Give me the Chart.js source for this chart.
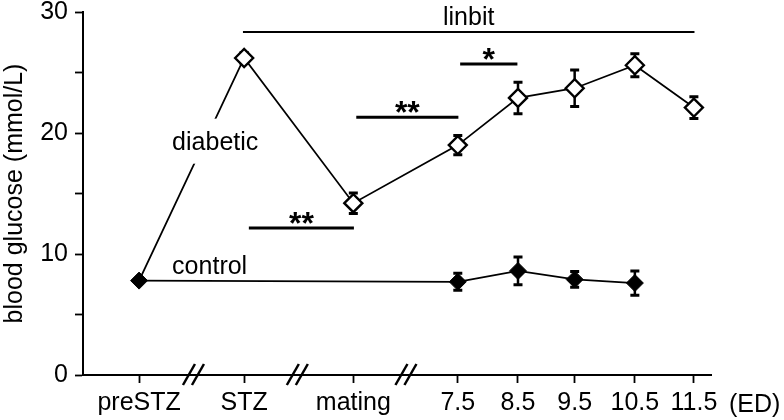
<!DOCTYPE html>
<html>
<head>
<meta charset="utf-8">
<script src="https://cdn.jsdelivr.net/npm/chart.js@4"></script>
<style>
  body { margin: 0; background: #fff; }
  canvas { display: block; }
</style>
</head>
<body>
<canvas id="chart" width="784" height="420"></canvas>
<script>
// categories and where they sit on the (broken) x axis, in ED-like units
const xLabels = ['preSTZ', 'STZ', 'mating', '7.5', '8.5', '9.5', '10.5', '11.5'];
const xPos = [0, 1.78, 3.63, 5.4, 6.42, 7.38, 8.4, 9.4];

// blood glucose (mmol/L), mean and error
const diabetic = [7.8, 26.2, 14.2, 19.0, 22.9, 23.7, 25.6, 22.1];
const diabeticErr = [0, 0.45, 0.85, 0.8, 1.3, 1.5, 0.95, 0.9];
const control = [7.8, null, null, 7.7, 8.6, 7.9, 7.6, null];
const controlErr = [0, null, null, 0.7, 1.15, 0.65, 1.0, null];

// significance bars: start, end, height, label
const sigStart = [1.86, 3.68, 5.44, 1.76];
const sigEnd = [3.64, 5.41, 6.41, 9.41];
const sigY = [12.15, 21.3, 25.7, 28.35];
const sigText = ['**', '**', '*', 'linbit'];

// axis break marks
const breakPos = [0.93, 2.69, 4.53];

const FONT = '"Liberation Sans", Arial, sans-serif';

const toPoints = (vals) => vals.map((v, i) => ({ x: xPos[i], y: v }));

// draws the error bars under the markers
const errorBars = {
  id: 'errorBars',
  beforeDatasetsDraw(chart) {
    const { ctx, scales: { x, y } } = chart;
    const sets = [[diabetic, diabeticErr], [control, controlErr]];
    ctx.save();
    ctx.strokeStyle = '#000';
    sets.forEach(([vals, errs]) => {
      vals.forEach((v, i) => {
        if (v == null || !errs[i]) return;
        const px = x.getPixelForValue(xPos[i]);
        const top = y.getPixelForValue(v + errs[i]);
        const bot = y.getPixelForValue(v - errs[i]);
        ctx.lineWidth = 2.5;
        ctx.beginPath();
        ctx.moveTo(px, top);
        ctx.lineTo(px, bot);
        ctx.stroke();
        ctx.lineWidth = 3;
        ctx.beginPath();
        ctx.moveTo(px - 4.5, top);
        ctx.lineTo(px + 4.5, top);
        ctx.moveTo(px - 4.5, bot);
        ctx.lineTo(px + 4.5, bot);
        ctx.stroke();
      });
    });
    ctx.restore();
  }
};

// significance bars, series labels, axis breaks, unit label
const extras = {
  id: 'extras',
  afterDraw(chart) {
    const { ctx, scales: { x, y } } = chart;
    ctx.save();
    ctx.fillStyle = '#000';
    ctx.strokeStyle = '#000';

    sigText.forEach((t, i) => {
      const x0 = x.getPixelForValue(sigStart[i]);
      const x1 = x.getPixelForValue(sigEnd[i]);
      const py = y.getPixelForValue(sigY[i]);
      ctx.lineWidth = t === 'linbit' ? 2 : 3;
      ctx.beginPath();
      ctx.moveTo(x0, py);
      ctx.lineTo(x1, py);
      ctx.stroke();
      ctx.textAlign = 'center';
      ctx.textBaseline = 'alphabetic';
      if (t === 'linbit') {
        ctx.font = '25px ' + FONT;
        ctx.fillText(t, (x0 + x1) / 2, py - 7);
      } else {
        ctx.font = 'bold 32px ' + FONT;
        ctx.fillText(t, (x0 + x1) / 2, py + 6);
      }
    });

    // series labels; the diabetic one sits on a white box that breaks the line
    ctx.font = '25px ' + FONT;
    ctx.textAlign = 'left';
    ctx.textBaseline = 'middle';
    const dx = x.getPixelForValue(0.56), dy = y.getPixelForValue(19.2);
    ctx.fillStyle = '#fff';
    ctx.fillRect(dx - 4, dy - 24, 98, 45);
    ctx.fillStyle = '#000';
    ctx.fillText('diabetic', dx, dy);
    ctx.fillText('control', x.getPixelForValue(0.56), y.getPixelForValue(8.9));

    // "//" breaks on the x axis
    const base = y.getPixelForValue(0);
    ctx.lineWidth = 2.5;
    breakPos.forEach((b) => {
      const bx = x.getPixelForValue(b);
      [-5, 4].forEach((o) => {
        ctx.beginPath();
        ctx.moveTo(bx + o - 6, base + 10);
        ctx.lineTo(bx + o + 6, base - 11);
        ctx.stroke();
      });
    });

    ctx.font = '25px ' + FONT;
    ctx.textAlign = 'left';
    ctx.textBaseline = 'middle';
    ctx.fillText('(ED)', x.right + 18, base + 30);
    ctx.restore();
  }
};

new Chart(document.getElementById('chart'), {
  type: 'line',
  data: {
    datasets: [
      {
        label: 'control',
        data: toPoints(control),
        spanGaps: true,
        borderColor: '#000',
        borderWidth: 1.8,
        segment: { borderWidth: (c) => (c.p0DataIndex === 0 ? 1.2 : 1.8) },
        pointStyle: 'rectRot',
        pointRadius: 8.5,
        pointBackgroundColor: '#000',
        pointBorderColor: '#000',
        pointBorderWidth: 1,
        order: 0
      },
      {
        label: 'diabetic',
        data: toPoints(diabetic),
        borderColor: '#000',
        borderWidth: 1.8,
        pointStyle: 'rectRot',
        pointRadius: diabetic.map((v, i) => (i === 0 ? 0 : 9)),
        pointBackgroundColor: '#fff',
        pointBorderColor: '#000',
        pointBorderWidth: 2.4,
        order: 1
      }
    ]
  },
  options: {
    responsive: false,
    animation: false,
    layout: { padding: { left: 0, right: 73, top: 12, bottom: 0 } },
    plugins: { legend: { display: false }, tooltip: { enabled: false } },
    scales: {
      x: {
        type: 'linear',
        min: -0.95,
        max: 9.69,
        afterBuildTicks: (axis) => { axis.ticks = xPos.map((v) => ({ value: v })); },
        afterFit: (axis) => { axis.height = 45; },
        ticks: {
          autoSkip: false,
          maxRotation: 0,
          padding: 8,
          color: '#000',
          font: { family: FONT, size: 25, lineHeight: 1 },
          callback: (v) => {
            const i = xPos.findIndex((p) => Math.abs(p - v) < 1e-6);
            return i >= 0 ? xLabels[i] : '';
          }
        },
        grid: { drawOnChartArea: false, tickLength: 8, tickColor: '#000', tickWidth: 1.8 },
        border: { color: '#000', width: 2 }
      },
      y: {
        min: 0,
        max: 30,
        afterFit: (axis) => { axis.width = 83; },
        ticks: {
          stepSize: 5,
          padding: 7,
          color: '#000',
          font: { family: FONT, size: 25, lineHeight: 0.35 },
          callback: (v) => (v % 10 === 0 ? v : '')
        },
        grid: { drawOnChartArea: false, tickLength: 8, tickColor: '#000', tickWidth: 1.8 },
        border: { color: '#000', width: 2 },
        title: {
          display: true,
          text: 'blood glucose (mmol/L)',
          color: '#000',
          font: { family: FONT, size: 25 },
          padding: { top: 0, bottom: 0 }
        }
      }
    }
  },
  plugins: [errorBars, extras]
});
</script>
</body>
</html>
